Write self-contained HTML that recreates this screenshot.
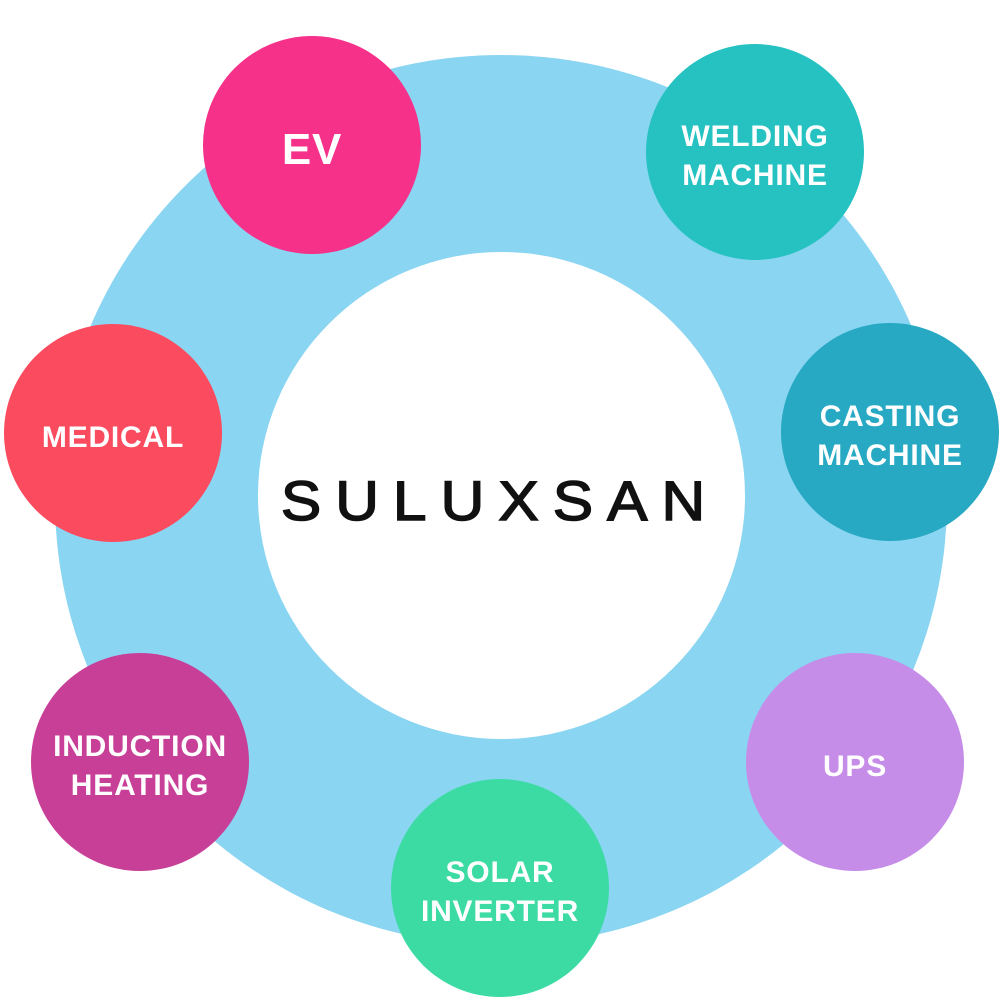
<!DOCTYPE html>
<html><head><meta charset="utf-8"><style>
html,body{margin:0;padding:0;background:#fff;width:1000px;height:1000px;overflow:hidden}
.c{position:absolute;border-radius:50%;display:flex;align-items:center;justify-content:center;text-align:center;color:#fff;font-family:"Liberation Sans",sans-serif;font-weight:bold;font-size:30px;line-height:39px;letter-spacing:0.8px;box-sizing:border-box;padding-top:8px}
</style></head><body>
<div class="c" style="left:55px;top:55px;width:892px;height:890px;background:#8ad5f2"></div>
<div class="c" style="left:258px;top:252px;width:487px;height:487px;background:#fff"></div>
<div style="position:absolute;left:250px;top:470px;width:500px;text-align:center;font-family:'Liberation Sans',sans-serif;font-size:56px;line-height:62px;color:#111;letter-spacing:13px;transform:scaleX(1.08);-webkit-text-stroke:1.5px #111">SULUXSAN</div>
<div class="c" style="left:203px;top:36px;width:218px;height:218px;background:#f5318a;font-size:44px">EV</div>
<div class="c" style="left:646px;top:44px;width:218px;height:216px;background:#26c2c2">WELDING<br>MACHINE</div>
<div class="c" style="left:781px;top:323px;width:218px;height:218px;background:#27a9c3">CASTING<br>MACHINE</div>
<div class="c" style="left:746px;top:653px;width:218px;height:218px;background:#c68de8">UPS</div>
<div class="c" style="left:391px;top:779px;width:218px;height:218px;background:#3cdba4">SOLAR<br>INVERTER</div>
<div class="c" style="left:31px;top:653px;width:218px;height:218px;background:#c83f98">INDUCTION<br>HEATING</div>
<div class="c" style="left:4px;top:324px;width:218px;height:218px;background:#fb4b5f">MEDICAL</div>
</body></html>
